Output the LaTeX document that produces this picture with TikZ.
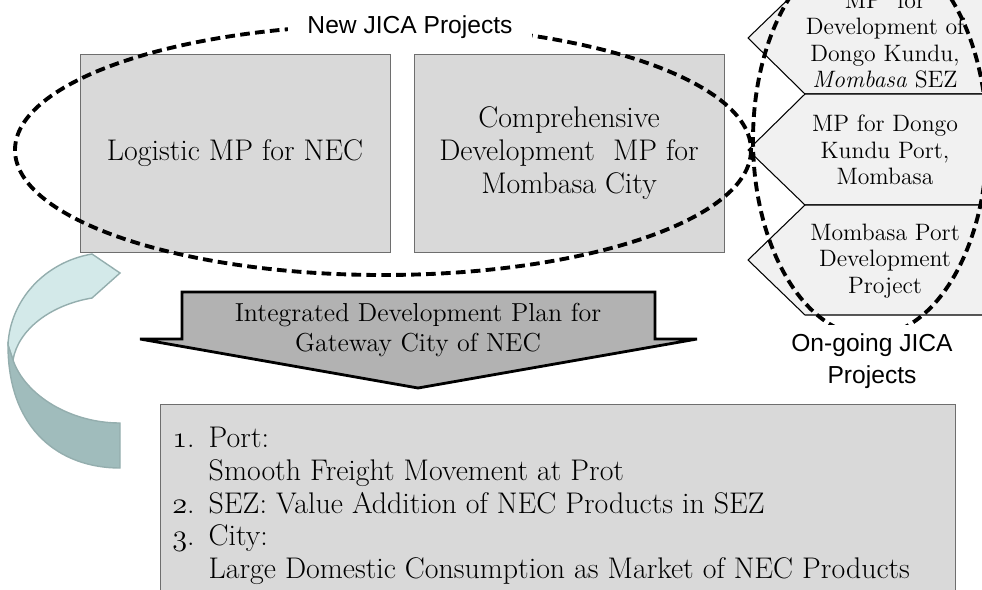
\documentclass[tikz,border=0pt]{standalone}
\usepackage{fontspec}
\usepackage{tikz}
\newfontfamily\labelsans{Liberation Sans}
\newcommand\oldnum[1]{$\mathnormal{#1}$}
\definecolor{boxgray}{RGB}{217,217,217}
\definecolor{edgegray}{RGB}{110,110,110}
\definecolor{arrowgray}{RGB}{178,178,178}
\definecolor{palegray}{RGB}{241,241,241}
\definecolor{paleteal}{RGB}{211,233,233}
\definecolor{darkteal}{RGB}{160,188,188}
\definecolor{tealedge}{RGB}{148,174,174}
\tikzset{
    projbox/.style={draw=edgegray, fill=boxgray, align=center, font=\fontsize{17}{18.8}\selectfont},
    ongoing/.style={align=center, font=\fontsize{13.5}{15}\selectfont},
    jicaring/.style={draw=black, line width=2.2pt, dash pattern=on 5.5pt off 3pt},
    caption/.style={fill=white, align=center, font=\labelsans\fontsize{14}{18}\selectfont}
}
\begin{document}
\begin{tikzpicture}[x=0.02cm, y=-0.02cm]
    \useasboundingbox (0,0) rectangle (982,589);
    \clip (0,0) rectangle (982,589);

    % Feedback ribbon
    \filldraw[fill=paleteal, draw=tealedge, line width=0.8pt] (92,254) -- (120,273) -- (92,298)
        .. controls (50,305) and (18,330) .. (13,360) -- (8,345)
        .. controls (10,300) and (45,262) .. (92,254) -- cycle;
    \filldraw[fill=darkteal, draw=tealedge, line width=0.8pt] (8,345)
        .. controls (8,430) and (60,468) .. (120,468) -- (120,423)
        .. controls (70,423) and (25,395) .. (13,360) -- cycle;

    % New projects
    \node[projbox, minimum width=6.2cm, minimum height=3.96cm] (logistic) at (235,153) {Logistic MP for NEC};
    \node[projbox, minimum width=6.2cm, minimum height=3.96cm] (cityplan) at (569,153) {Comprehensive\\Development~~MP for\\Mombasa City};

    % Integration arrow
    \filldraw[fill=arrowgray, draw=black, line width=1.6pt] (182,292) -- (655,292) -- (655,339) -- (697,339)
        -- (418,388) -- (140,339) -- (182,339) -- cycle;
    \node[align=center, font=\fontsize{14.8}{17}\selectfont] (plan) at (418,330) {Integrated Development Plan for\\Gateway City of NEC};

    % Goals
    \node[draw=edgegray, fill=boxgray, minimum width=15.9cm, minimum height=3.92cm] (goalbox) at (557.5,502) {};
    \node[anchor=north west, inner sep=0pt, font=\fontsize{17}{18.7}\selectfont] (goals) at (172,424) {%
        \begin{tabular}{@{}l@{\hskip 8pt}l@{}}
            \oldnum{1}. & Port:\\
             & Smooth Freight Movement at Prot\\
            \oldnum{2}. & SEZ: Value Addition of NEC Products in SEZ\\
            \oldnum{3}. & City:\\
             & Large Domestic Consumption as Market of NEC Products
        \end{tabular}};

    % On-going projects
    \filldraw[fill=palegray, draw=black, line width=0.6pt] (805,-17) -- (748,38) -- (805,94) -- (990,94) -- (990,-17) -- cycle;
    \filldraw[fill=palegray, draw=black, line width=0.6pt] (805,94) -- (748,150) -- (805,205) -- (990,205) -- (990,94) -- cycle;
    \filldraw[fill=palegray, draw=black, line width=0.6pt] (805,205) -- (748,260) -- (805,315) -- (990,315) -- (990,205) -- cycle;
    \node[ongoing] (sezplan) at (885,40) {MP~~for\\Development of\\Dongo Kundu,\\\textit{Mombasa} SEZ};
    \node[ongoing] (portplan) at (885,150) {MP for Dongo\\Kundu Port,\\Mombasa};
    \node[ongoing] (portproject) at (885,261) {Mombasa Port\\Development\\Project};

    % Dashed groupings
    \draw[jicaring] (383,150) ellipse [x radius=368, y radius=125];
    \draw[jicaring] (870,140) ellipse [x radius=117, y radius=196];
    \node[caption, inner xsep=11pt, inner ysep=2pt] (newlabel) at (410,27) {New JICA Projects};
    \node[caption, inner sep=5pt] (ongoinglabel) at (872,361) {On-going JICA\\Projects};
\end{tikzpicture}
\end{document}
